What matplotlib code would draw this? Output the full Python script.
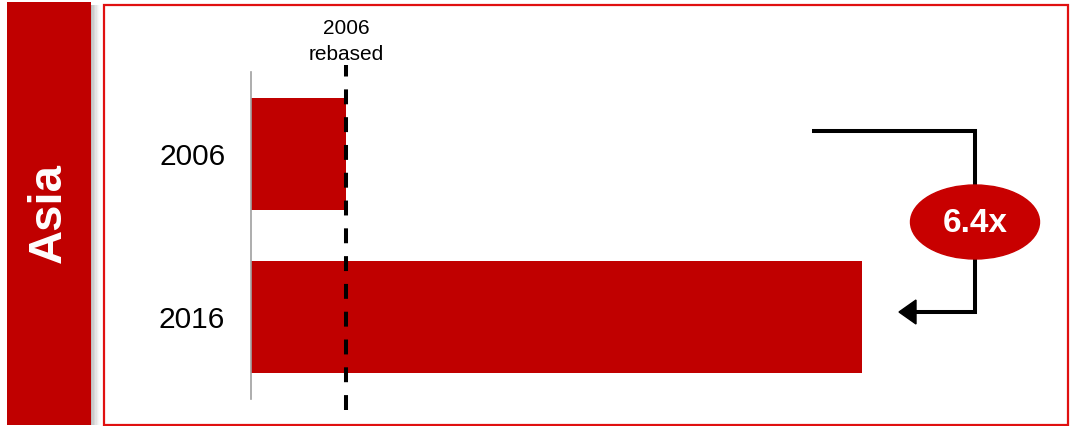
import matplotlib.pyplot as plt
from matplotlib.patches import Ellipse, Polygon, Rectangle

plt.rcParams["font.family"] = ["Liberation Sans", "DejaVu Sans"]

# Data
years = ["2006", "2016"]
values = [1.0, 6.4]
region = "Asia"
growth_label = "6.4x"
rebased_label = "2006\nrebased"

RED = "#C00000"
W, H = 1071, 426

fig = plt.figure(figsize=(W / 100, H / 100), dpi=100)

# Background layer in pixel coordinates (banner, shadow, frame, bracket).
bg = fig.add_axes([0, 0, 1, 1])
bg.set_xlim(0, W)
bg.set_ylim(H, 0)
bg.set_axis_off()

# Soft shadow to the right of the banner.
for i, a in enumerate([0.5, 0.4, 0.3, 0.21, 0.13, 0.07, 0.03]):
    bg.add_patch(Rectangle((91 + i * 1.4, 5), 1.4, 420, color="#808080", alpha=a, lw=0))
bg.add_patch(Rectangle((7, 2), 84, 423, color=RED, lw=0))
bg.text(49, 213, region, rotation=90, color="white", fontsize=34,
        fontweight="bold", ha="center", va="center")

# Framed panel.
bg.add_patch(Rectangle((103.5, 4.5), 964, 420, fill=False, ec="#E01010", lw=1.6))

# Main chart axes.
ax_left, ax_right = 251, 1068
ax_top, ax_bottom = 72, 399
ax = fig.add_axes([ax_left / W, (H - ax_bottom) / H,
                   (ax_right - ax_left) / W, (ax_bottom - ax_top) / H])
ax.patch.set_visible(False)

px_per_unit = (862 - ax_left) / values[1]
ax.set_xlim(0, (ax_right - ax_left) / px_per_unit)
ax.set_ylim(1.5, -0.5)

ax.barh(range(len(years)), values, height=0.685, color=RED, zorder=2)
ax.set_yticks(range(len(years)))
ax.set_yticklabels(years, fontsize=21.5)
ax.tick_params(axis="y", length=0, pad=18.5)
ax.set_xticks([])
for side in ["top", "right", "bottom"]:
    ax.spines[side].set_visible(False)
ax.spines["left"].set_color("#A0A0A0")
ax.spines["left"].set_linewidth(1.2)

# Rebased reference line.
ax.axvline(values[0], ymin=-0.034, ymax=1.021, color="black", lw=2.9,
           dashes=(3.7, 3.2), clip_on=False, zorder=3)
ax.annotate(rebased_label, xy=(values[0], 1.0), xycoords=("data", "axes fraction"),
            xytext=(0, 6), textcoords="offset points", ha="center", va="bottom",
            fontsize=15, linespacing=1.45, annotation_clip=False)

# Growth bracket with arrow and multiplier badge.
lw = 2.9
bg.plot([812, 975, 975, 914], [131, 131, 312, 312], color="black", lw=lw,
        solid_joinstyle="miter", solid_capstyle="butt")
bg.add_patch(Polygon([(899, 312), (916, 300), (916, 324)], closed=True, color="black"))
bg.add_patch(Ellipse((975, 222), 129, 74, color="#C80000", zorder=4))
bg.text(975, 223, growth_label, color="white", fontsize=24, fontweight="bold",
        ha="center", va="center", zorder=5)

fig.savefig("out.png", dpi=100)
